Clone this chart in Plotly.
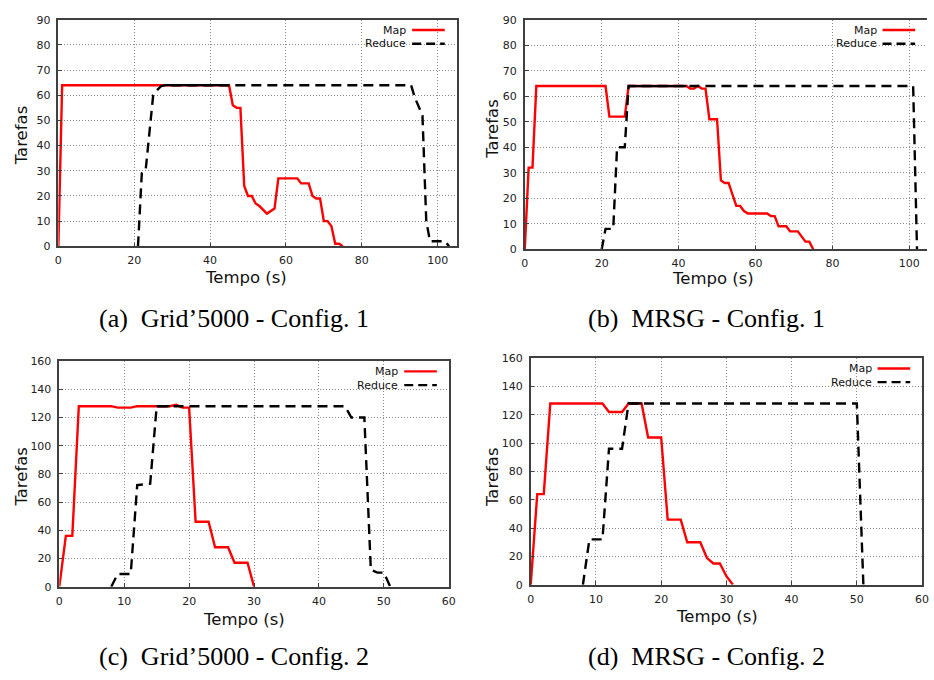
import numpy as np
import plotly.graph_objects as go

# ---------------- data ----------------
# (a) Grid'5000 - Config. 1
a_map_t = [0, 1, 45, 46, 47, 48, 49, 50, 51, 52, 53, 55, 57, 58, 63, 64, 66, 67, 68, 69, 70, 71, 72, 73, 74, 75]
a_map_y = [0, 64, 64, 56, 55, 55, 24, 20, 20, 17, 16, 13, 15, 27, 27, 25, 25, 20, 19, 19, 10, 10, 8, 1, 1, 0]
a_red_t = [21, 22, 23, 25, 26, 27, 28, 93, 94, 96, 97, 98, 102, 103]
a_red_y = [0, 29, 30, 60, 62, 63.5, 64, 64, 59, 52, 10, 2, 2, 0]

# (b) MRSG - Config. 1
b_map_t = [0, 1, 2, 3, 21, 22, 26, 27, 42, 43, 44, 45, 46, 47, 48, 50, 51, 52, 53, 55, 56, 57, 58, 63, 64, 65, 66, 68, 69, 71, 73, 74, 75]
b_map_y = [0, 32, 32, 64, 64, 52, 52, 64, 64, 63, 63, 64, 63, 63, 51, 51, 27, 26, 26, 17, 17, 15, 14, 14, 13, 13, 9, 9, 7, 7, 3, 3, 0]
b_red_t = [20, 21, 23, 24, 26, 27, 101, 102]
b_red_y = [0, 8, 8, 40, 40, 64, 64, 0]

# (c) Grid'5000 - Config. 2
c_map_t = [0, 1, 2, 3, 8, 9, 11, 12, 17, 18, 19, 20, 21, 23, 24, 26, 27, 29, 30]
c_map_y = [0, 36, 36, 128, 128, 127, 127, 128, 128, 129, 127, 127, 46, 46, 28, 28, 17, 17, 0]
c_red_t = [8, 9, 11, 12, 14, 15, 44, 45, 47, 48, 49, 50, 51]
c_red_y = [0, 9, 9, 72, 73, 128, 128, 120, 120, 12, 10, 10, 0]

# (d) MRSG - Config. 2
d_map_t = [0, 1, 2, 3, 11, 12, 14, 15, 17, 18, 20, 21, 23, 24, 26, 27, 28, 29, 30, 31]
d_map_y = [0, 64, 64, 128, 128, 122, 122, 128, 128, 104, 104, 46, 46, 30, 30, 19, 15, 15, 6, 0]
d_red_t = [8, 9, 11, 12, 14, 15, 50, 51]
d_red_y = [0, 32, 32, 96, 96, 128, 128, 0]

# ticks
x_ticks_cfg1 = [0, 20, 40, 60, 80, 100]
y_ticks_cfg1 = [0, 10, 20, 30, 40, 50, 60, 70, 80, 90]
x_ticks_cfg2 = [0, 10, 20, 30, 40, 50, 60]
y_ticks_cfg2 = [0, 20, 40, 60, 80, 100, 120, 140, 160]

captions = ["(a)\u00a0 Grid\u20195000 - Config. 1", "(b)\u00a0 MRSG - Config. 1",
            "(c)\u00a0 Grid\u20195000 - Config. 2", "(d)\u00a0 MRSG - Config. 2"]
series_names = ["Map", "Reduce"]
x_title = "Tempo (s)"
y_title = "Tarefas"

# ---------------- layout geometry (pixels) ----------------
W, H = 934, 680
panels = [
    dict(map=(a_map_t, a_map_y), red=(a_red_t, a_red_y), box=(55, 458, 14, 245),
         xr=[0, 105], yr=[0, 90], xt=x_ticks_cfg1, yt=y_ticks_cfg1,
         ytitle=(18, 132), xtitle=(245, 277), cap=(233, 319), right=True),
    dict(map=(b_map_t, b_map_y), red=(b_red_t, b_red_y), box=(527, 934, 14, 248),
         xr=[0, 104.6], yr=[0, 90], xt=x_ticks_cfg1, yt=y_ticks_cfg1,
         ytitle=(494, 125), xtitle=(717, 278), cap=(711, 319), right=False),
    dict(map=(c_map_t, c_map_y), red=(c_red_t, c_red_y), box=(56, 450, 362, 592),
         xr=[0, 60], yr=[0, 160], xt=x_ticks_cfg2, yt=y_ticks_cfg2,
         ytitle=(18, 480), xtitle=(243, 625), cap=(233, 663), right=True),
    dict(map=(d_map_t, d_map_y), red=(d_red_t, d_red_y), box=(533, 929, 359, 590),
         xr=[0, 60], yr=[0, 160], xt=x_ticks_cfg2, yt=y_ticks_cfg2,
         ytitle=(495, 480), xtitle=(722, 622), cap=(711, 663), right=True),
]

RED = "#ff0000"
BLACK = "#000000"
BORDER = "#404040"
GRID = "#8c8c8c"
TICKFONT = dict(family="DejaVu Sans", size=11, color="#222222")
TITLEFONT = dict(family="DejaVu Sans", size=16.5, color="#111111")
CAPFONT = dict(family="Liberation Serif", size=26, color="#000000")


def overlap(mt, my, rt, ry):
    """Segments where the two polylines coincide (drawn solid black on top)."""
    lo = max(min(mt), min(rt))
    hi = min(max(mt), max(rt))
    ts = sorted(set([t for t in list(mt) + list(rt) if lo <= t <= hi]))
    m = np.interp(ts, mt, my)
    r = np.interp(ts, rt, ry)
    xs, ys = [], []
    for i in range(len(ts) - 1):
        if abs(m[i] - r[i]) < 1e-9 and abs(m[i + 1] - r[i + 1]) < 1e-9:
            if xs and xs[-1] == ts[i]:
                xs.append(ts[i + 1]); ys.append(r[i + 1])
            else:
                if xs:
                    xs.append(None); ys.append(None)
                xs += [ts[i], ts[i + 1]]; ys += [r[i], r[i + 1]]
    return xs, ys


fig = go.Figure()
annotations = []
shapes = []

for k, p in enumerate(panels):
    sfx = "" if k == 0 else str(k + 1)
    xa, ya = "x" + sfx, "y" + sfx
    l, r, t, b = p["box"]
    mt, my = p["map"]
    rt, ry = p["red"]
    fig.add_trace(go.Scatter(x=mt, y=my, mode="lines", xaxis=xa, yaxis=ya,
                             line=dict(color=RED, width=2.4), showlegend=False,
                             name=series_names[0]))
    fig.add_trace(go.Scatter(x=rt, y=ry, mode="lines", xaxis=xa, yaxis=ya,
                             line=dict(color=BLACK, width=2.4, dash="10px,6px"),
                             showlegend=False, name=series_names[1]))
    ox, oy = overlap(mt, my, rt, ry)
    fig.add_trace(go.Scatter(x=ox, y=oy, mode="lines", xaxis=xa, yaxis=ya,
                             line=dict(color=BLACK, width=2.2), showlegend=False,
                             hoverinfo="skip"))

    axx = dict(domain=[l / W, r / W], range=p["xr"], tickvals=p["xt"],
               ticktext=[str(v) for v in p["xt"]], showgrid=True, gridcolor=GRID,
               griddash="1px,2px", gridwidth=1, showline=True, linecolor=BORDER,
               linewidth=1.5, mirror=True, ticks="inside", ticklen=4,
               tickcolor=BORDER, tickfont=TICKFONT, zeroline=False,
               anchor=ya, fixedrange=True, ticklabelstandoff=3)
    axy = dict(domain=[1 - b / H, 1 - t / H], range=p["yr"], tickvals=p["yt"],
               ticktext=[str(v) for v in p["yt"]], showgrid=True, gridcolor=GRID,
               griddash="1px,2px", gridwidth=1, showline=True, linecolor=BORDER,
               linewidth=1.5, mirror=p["right"], ticks="inside", ticklen=4,
               tickcolor=BORDER, tickfont=TICKFONT, zeroline=False,
               anchor=xa, fixedrange=True, ticklabelstandoff=4)
    fig.layout["xaxis" + sfx] = axx
    fig.layout["yaxis" + sfx] = axy

    # manual gnuplot-style legend (text on the left, sample on the right)
    pw, ph = r - l, b - t
    x_end = 1 - 12 / pw
    x_start = 1 - 45 / pw
    for j, (nm, dy, col, dsh) in enumerate([(series_names[0], 10.5, RED, "solid"),
                                            (series_names[1], 24.5, BLACK, "dash")]):
        yy = 1 - dy / ph
        shapes.append(dict(type="line", xref=xa + " domain", yref=ya + " domain",
                           x0=x_start, x1=x_end, y0=yy, y1=yy,
                           line=dict(color=col, width=2.4,
                                     dash="9px,5px" if dsh == "dash" else "solid")))
        annotations.append(dict(text=nm, xref=xa + " domain", yref=ya + " domain",
                                x=x_start - 5 / pw, y=yy, xanchor="right", yanchor="middle",
                                showarrow=False, borderpad=0,
                                font=dict(family="DejaVu Sans", size=11, color="#111111")))

    # axis titles and captions
    annotations.append(dict(text=y_title, xref="paper", yref="paper",
                            x=p["ytitle"][0] / W, y=1 - p["ytitle"][1] / H,
                            xanchor="center", yanchor="middle", textangle=-90,
                            showarrow=False, font=TITLEFONT))
    annotations.append(dict(text=x_title, xref="paper", yref="paper",
                            x=p["xtitle"][0] / W, y=1 - p["xtitle"][1] / H,
                            xanchor="center", yanchor="middle",
                            showarrow=False, font=TITLEFONT))
    annotations.append(dict(text=captions[k], xref="paper", yref="paper",
                            x=p["cap"][0] / W, y=1 - p["cap"][1] / H,
                            xanchor="center", yanchor="middle",
                            showarrow=False, font=CAPFONT))

fig.update_layout(width=W, height=H, margin=dict(l=0, r=0, t=0, b=0),
                  paper_bgcolor="white", plot_bgcolor="white",
                  annotations=annotations, shapes=shapes, showlegend=False)

fig.write_html("out.html", config={"displayModeBar": False},
               post_script="document.body.style.margin='0';document.body.style.overflow='hidden';")
